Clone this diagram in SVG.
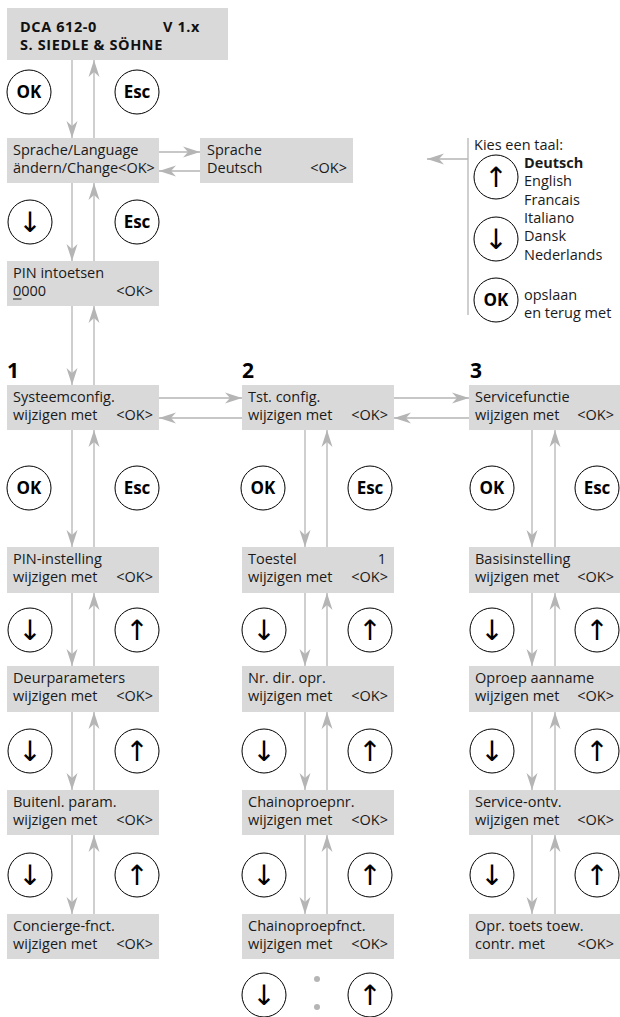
<svg xmlns="http://www.w3.org/2000/svg" width="620" height="1017" viewBox="0 0 620 1017">
<style>
.box{fill:#d9d9d9}
.t{font-family:"Open Sans","Liberation Sans",sans-serif;font-size:14.5px;fill:#1a1a1a}
.tb{font-family:"Open Sans","Liberation Sans",sans-serif;font-size:14.5px;font-weight:bold;fill:#111;letter-spacing:0.6px}
.hd{font-family:"Open Sans","Liberation Sans",sans-serif;font-size:21px;font-weight:bold;fill:#000}
.c{fill:#fff;stroke:#000;stroke-width:1}
.ck{font-family:"Open Sans","Liberation Sans",sans-serif;font-size:17px;font-weight:bold;fill:#000;text-anchor:middle}
.ar{font-family:"DejaVu Sans",sans-serif;font-size:28px;fill:#000;text-anchor:middle;font-variant-emoji:text}
.e{text-anchor:end}
.ln{stroke:#b5b5b5;stroke-width:1.3;fill:none;marker-end:url(#ah)}
.pl{stroke:#b5b5b5;stroke-width:1.3;fill:none}
</style>
<defs>
<marker id="ah" markerUnits="userSpaceOnUse" markerWidth="18" markerHeight="12" refX="17" refY="5.5" orient="auto" viewBox="0 0 18 11">
<path d="M0,0 L17,5.5 L0,11 L5,5.5 z" fill="#b5b5b5"/>
</marker>
</defs>

<g id="connectors">
<line class="ln" x1="72" y1="60" x2="72" y2="138"/>
<line class="ln" x1="94" y1="138" x2="94" y2="60"/>
<line class="ln" x1="72" y1="183" x2="72" y2="261"/>
<line class="ln" x1="94" y1="261" x2="94" y2="183"/>
<line class="ln" x1="72" y1="306" x2="72" y2="385"/>
<line class="ln" x1="94" y1="385" x2="94" y2="306"/>
<line class="ln" x1="159" y1="152" x2="200" y2="152"/>
<line class="ln" x1="200" y1="171" x2="159" y2="171"/>
<line class="pl" x1="468" y1="138" x2="468" y2="315"/>
<line class="ln" x1="468" y1="159" x2="427" y2="159"/>
<line class="ln" x1="159" y1="398" x2="242" y2="398"/>
<line class="ln" x1="242" y1="418" x2="159" y2="418"/>
<line class="ln" x1="394" y1="398" x2="469" y2="398"/>
<line class="ln" x1="469" y1="418" x2="394" y2="418"/>
<line class="ln" x1="72" y1="430" x2="72" y2="547"/>
<line class="ln" x1="94" y1="547" x2="94" y2="430"/>
<line class="ln" x1="72" y1="593" x2="72" y2="666"/>
<line class="ln" x1="94" y1="666" x2="94" y2="593"/>
<line class="ln" x1="72" y1="712" x2="72" y2="790"/>
<line class="ln" x1="94" y1="790" x2="94" y2="712"/>
<line class="ln" x1="72" y1="835" x2="72" y2="914"/>
<line class="ln" x1="94" y1="914" x2="94" y2="835"/>
<line class="ln" x1="305" y1="430" x2="305" y2="547"/>
<line class="ln" x1="327" y1="547" x2="327" y2="430"/>
<line class="ln" x1="305" y1="593" x2="305" y2="666"/>
<line class="ln" x1="327" y1="666" x2="327" y2="593"/>
<line class="ln" x1="305" y1="712" x2="305" y2="790"/>
<line class="ln" x1="327" y1="790" x2="327" y2="712"/>
<line class="ln" x1="305" y1="835" x2="305" y2="914"/>
<line class="ln" x1="327" y1="914" x2="327" y2="835"/>
<line class="ln" x1="532" y1="430" x2="532" y2="547"/>
<line class="ln" x1="555" y1="547" x2="555" y2="430"/>
<line class="ln" x1="532" y1="593" x2="532" y2="666"/>
<line class="ln" x1="555" y1="666" x2="555" y2="593"/>
<line class="ln" x1="532" y1="712" x2="532" y2="790"/>
<line class="ln" x1="555" y1="790" x2="555" y2="712"/>
<line class="ln" x1="532" y1="835" x2="532" y2="914"/>
<line class="ln" x1="555" y1="914" x2="555" y2="835"/>
<circle cx="317" cy="979" r="3" fill="#b5b5b5"/>
<circle cx="317" cy="1007" r="3" fill="#b5b5b5"/>
</g>

<g id="n-top"><rect class="box" x="7" y="8" width="221" height="52"/>
<text class="tb" x="20" y="32">DCA 612-0</text><text class="tb" x="163" y="32">V  1.x</text>
<text class="tb" x="20" y="50">S. SIEDLE &amp; SÖHNE</text></g>
<g id="k-ok0"><circle class="c" cx="29" cy="92" r="22"/><text class="ck" x="29" y="98">OK</text></g>
<g id="k-esc0"><circle class="c" cx="137" cy="92" r="22"/><text class="ck" x="137" y="98">Esc</text></g>
<g id="n-lang"><rect class="box" x="7" y="138" width="152" height="45"/>
<text class="t" x="13" y="155">Sprache/Language</text><text class="t" x="13" y="173">ändern/Change&lt;OK&gt;</text></g>
<g id="n-sprache"><rect class="box" x="200" y="138" width="153" height="45"/>
<text class="t" x="207" y="155">Sprache</text><text class="t" x="207" y="173">Deutsch</text><text class="t e" x="347" y="173">&lt;OK&gt;</text></g>
<g id="k-down0"><circle class="c" cx="30" cy="222" r="22"/><text class="ar" x="30" y="232">↓</text></g>
<g id="k-esc1"><circle class="c" cx="137" cy="222" r="22"/><text class="ck" x="137" y="228">Esc</text></g>
<g id="n-pin"><rect class="box" x="7" y="261" width="152" height="45"/>
<text class="t" x="13" y="278">PIN intoetsen</text><text class="t" x="13" y="296">0000</text><text class="t e" x="153" y="296">&lt;OK&gt;</text>
<line x1="13" y1="299" x2="21.5" y2="299" stroke="#1a1a1a" stroke-width="1"/></g>

<g id="legend">
<text class="t" x="474" y="150">Kies een taal:</text>
<text class="t" x="524" y="168" font-weight="bold">Deutsch</text>
<text class="t" x="524" y="186">English</text>
<text class="t" x="524" y="205">Francais</text>
<text class="t" x="524" y="223">Italiano</text>
<text class="t" x="524" y="241">Dansk</text>
<text class="t" x="524" y="260">Nederlands</text>
<circle class="c" cx="496" cy="177" r="22"/><text class="ar" x="496" y="187">↑</text>
<circle class="c" cx="496" cy="239" r="22"/><text class="ar" x="496" y="249">↓</text>
<circle class="c" cx="496" cy="300" r="22"/><text class="ck" x="496" y="306">OK</text>
<text class="t" x="524" y="300">opslaan</text>
<text class="t" x="524" y="318">en terug met</text>
</g>

<text class="hd" x="7" y="378">1</text>
<text class="hd" x="242" y="378">2</text>
<text class="hd" x="470" y="378">3</text>

<g id="n-c1r0"><rect class="box" x="7" y="385" width="152" height="45"/>
<text class="t" x="13" y="402">Systeemconfig.</text><text class="t" x="13" y="420">wijzigen met</text><text class="t e" x="153" y="420">&lt;OK&gt;</text></g>
<g id="n-c1r1"><rect class="box" x="7" y="547" width="152" height="46"/>
<text class="t" x="13" y="564">PIN-instelling</text><text class="t" x="13" y="582">wijzigen met</text><text class="t e" x="153" y="582">&lt;OK&gt;</text></g>
<g id="n-c1r2"><rect class="box" x="7" y="666" width="152" height="46"/>
<text class="t" x="13" y="683">Deurparameters</text><text class="t" x="13" y="701">wijzigen met</text><text class="t e" x="153" y="701">&lt;OK&gt;</text></g>
<g id="n-c1r3"><rect class="box" x="7" y="790" width="152" height="45"/>
<text class="t" x="13" y="807">Buitenl. param.</text><text class="t" x="13" y="825">wijzigen met</text><text class="t e" x="153" y="825">&lt;OK&gt;</text></g>
<g id="n-c1r4"><rect class="box" x="7" y="914" width="152" height="45"/>
<text class="t" x="13" y="931">Concierge-fnct.</text><text class="t" x="13" y="949">wijzigen met</text><text class="t e" x="153" y="949">&lt;OK&gt;</text></g>
<g id="k-c1"><circle class="c" cx="29" cy="488" r="22"/><text class="ck" x="29" y="494">OK</text>
<circle class="c" cx="137" cy="488" r="22"/><text class="ck" x="137" y="494">Esc</text>
<circle class="c" cx="30" cy="630" r="22"/><text class="ar" x="30" y="640">↓</text>
<circle class="c" cx="137" cy="630" r="22"/><text class="ar" x="137" y="640">↑</text>
<circle class="c" cx="30" cy="751" r="22"/><text class="ar" x="30" y="761">↓</text>
<circle class="c" cx="137" cy="751" r="22"/><text class="ar" x="137" y="761">↑</text>
<circle class="c" cx="30" cy="875" r="22"/><text class="ar" x="30" y="885">↓</text>
<circle class="c" cx="137" cy="875" r="22"/><text class="ar" x="137" y="885">↑</text></g>

<g id="n-c2r0"><rect class="box" x="242" y="385" width="152" height="45"/>
<text class="t" x="248" y="402">Tst. config.</text><text class="t" x="248" y="420">wijzigen met</text><text class="t e" x="388" y="420">&lt;OK&gt;</text></g>
<g id="n-c2r1"><rect class="box" x="242" y="547" width="152" height="46"/>
<text class="t" x="248" y="564">Toestel</text><text class="t e" x="386" y="564">1</text><text class="t" x="248" y="582">wijzigen met</text><text class="t e" x="388" y="582">&lt;OK&gt;</text></g>
<g id="n-c2r2"><rect class="box" x="242" y="666" width="152" height="46"/>
<text class="t" x="248" y="683">Nr. dir. opr.</text><text class="t" x="248" y="701">wijzigen met</text><text class="t e" x="388" y="701">&lt;OK&gt;</text></g>
<g id="n-c2r3"><rect class="box" x="242" y="790" width="152" height="45"/>
<text class="t" x="248" y="807">Chainoproepnr.</text><text class="t" x="248" y="825">wijzigen met</text><text class="t e" x="388" y="825">&lt;OK&gt;</text></g>
<g id="n-c2r4"><rect class="box" x="242" y="914" width="152" height="45"/>
<text class="t" x="248" y="931">Chainoproepfnct.</text><text class="t" x="248" y="949">wijzigen met</text><text class="t e" x="388" y="949">&lt;OK&gt;</text></g>
<g id="k-c2"><circle class="c" cx="263" cy="488" r="22"/><text class="ck" x="263" y="494">OK</text>
<circle class="c" cx="370" cy="488" r="22"/><text class="ck" x="370" y="494">Esc</text>
<circle class="c" cx="264" cy="630" r="22"/><text class="ar" x="264" y="640">↓</text>
<circle class="c" cx="370" cy="630" r="22"/><text class="ar" x="370" y="640">↑</text>
<circle class="c" cx="264" cy="751" r="22"/><text class="ar" x="264" y="761">↓</text>
<circle class="c" cx="370" cy="751" r="22"/><text class="ar" x="370" y="761">↑</text>
<circle class="c" cx="264" cy="875" r="22"/><text class="ar" x="264" y="885">↓</text>
<circle class="c" cx="370" cy="875" r="22"/><text class="ar" x="370" y="885">↑</text>
<circle class="c" cx="264" cy="995" r="22"/><text class="ar" x="264" y="1005">↓</text>
<circle class="c" cx="370" cy="995" r="22"/><text class="ar" x="370" y="1005">↑</text></g>

<g id="n-c3r0"><rect class="box" x="469" y="385" width="152" height="45"/>
<text class="t" x="475" y="402">Servicefunctie</text><text class="t" x="475" y="420">wijzigen met</text><text class="t e" x="614" y="420">&lt;OK&gt;</text></g>
<g id="n-c3r1"><rect class="box" x="469" y="547" width="152" height="46"/>
<text class="t" x="475" y="564">Basisinstelling</text><text class="t" x="475" y="582">wijzigen met</text><text class="t e" x="614" y="582">&lt;OK&gt;</text></g>
<g id="n-c3r2"><rect class="box" x="469" y="666" width="152" height="46"/>
<text class="t" x="475" y="683">Oproep aanname</text><text class="t" x="475" y="701">wijzigen met</text><text class="t e" x="614" y="701">&lt;OK&gt;</text></g>
<g id="n-c3r3"><rect class="box" x="469" y="790" width="152" height="45"/>
<text class="t" x="475" y="807">Service-ontv.</text><text class="t" x="475" y="825">wijzigen met</text><text class="t e" x="614" y="825">&lt;OK&gt;</text></g>
<g id="n-c3r4"><rect class="box" x="469" y="914" width="152" height="45"/>
<text class="t" x="475" y="931">Opr. toets toew.</text><text class="t" x="475" y="949">contr. met</text><text class="t e" x="614" y="949">&lt;OK&gt;</text></g>
<g id="k-c3"><circle class="c" cx="492" cy="488" r="22"/><text class="ck" x="492" y="494">OK</text>
<circle class="c" cx="597" cy="488" r="22"/><text class="ck" x="597" y="494">Esc</text>
<circle class="c" cx="492" cy="630" r="22"/><text class="ar" x="492" y="640">↓</text>
<circle class="c" cx="597" cy="630" r="22"/><text class="ar" x="597" y="640">↑</text>
<circle class="c" cx="492" cy="751" r="22"/><text class="ar" x="492" y="761">↓</text>
<circle class="c" cx="597" cy="751" r="22"/><text class="ar" x="597" y="761">↑</text>
<circle class="c" cx="492" cy="875" r="22"/><text class="ar" x="492" y="885">↓</text>
<circle class="c" cx="597" cy="875" r="22"/><text class="ar" x="597" y="885">↑</text></g>
</svg>
